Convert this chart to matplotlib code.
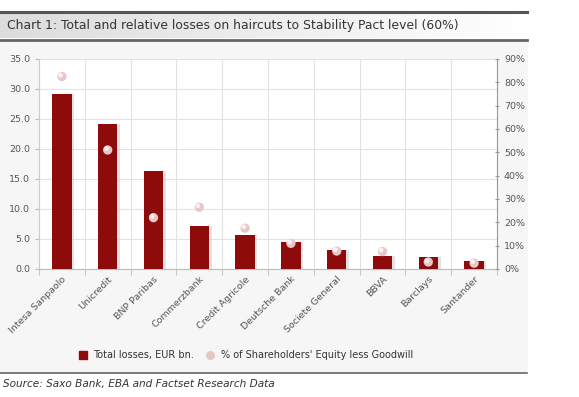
import matplotlib
matplotlib.use("Agg")
import matplotlib.pyplot as plt
import numpy as np
from matplotlib.patches import Rectangle
from matplotlib.lines import Line2D

# %% Data
banks = ['Intesa Sanpaolo', 'Unicredit', 'BNP Paribas', 'Commerzbank', 'Credit Agricole',
         'Deutsche Bank', 'Societe General', 'BBVA', 'Barclays', 'Santander']
losses = [29.2, 24.2, 16.3, 7.2, 5.7, 4.5, 3.2, 2.2, 2.0, 1.3]
equity_pct = [82.5, 51.0, 22.0, 26.5, 17.5, 11.0, 7.7, 7.5, 3.0, 2.5]
left_ticks = [0, 5, 10, 15, 20, 25, 30, 35]
right_ticks = [0, 10, 20, 30, 40, 50, 60, 70, 80, 90]

bar_col = '#8e0b0b'
dot_col = '#e8c6c6'
txt_col = '#555555'

W, H = 579, 397
fig = plt.figure(figsize=(W / 100, H / 100), dpi=100)
fig.patch.set_facecolor('white')

# %% Background panel, title band and rules (figure pixel coords)
bg = fig.add_axes([0, 0, 1, 1])
bg.set_xlim(0, W)
bg.set_ylim(H, 0)
bg.axis('off')
bg.add_patch(Rectangle((0, 40), 527, 333, color='#f6f6f6', zorder=0))
grad = np.linspace(0, 1, 256).reshape(1, -1)
bg.imshow(grad, extent=(0, 527, 38, 13), cmap=matplotlib.colors.LinearSegmentedColormap.from_list(
    'g', ['#dcdcdc', '#ffffff']), aspect='auto', zorder=1)
bg.plot([0, 527], [12, 12], color='#555555', lw=2.2, zorder=2)
bg.plot([0, 527], [39.5, 39.5], color='#666666', lw=2.0, zorder=2)
bg.plot([0, 527], [373, 373], color='#666666', lw=1.2, zorder=2)
bg.set_xlim(0, W)
bg.set_ylim(H, 0)
bg.text(7, 26, 'Chart 1: Total and relative losses on haircuts to Stability Pact level (60%)',
        fontsize=8.9, color='#333333', va='center', ha='left', zorder=3)
bg.text(3, 384, 'Source: Saxo Bank, EBA and Factset Research Data',
        fontsize=7.6, style='italic', color='#333333', va='center', ha='left')

# %% Main axes
ax = fig.add_axes([39 / W, 1 - 269 / H, (497 - 39) / W, (269 - 59) / H])
ax.set_facecolor('white')
x = np.arange(len(banks))
ax.bar(x + 0.06, losses, width=0.42, color='#cfcfcf', alpha=0.6, zorder=2)
ax.bar(x, losses, width=0.42, color=bar_col, zorder=3)
ax.set_xlim(-0.5, len(banks) - 0.5)
ax.set_ylim(0, 35)
ax.set_yticks(left_ticks)
ax.set_yticklabels([f'{v:.1f}' for v in left_ticks])
ax.set_xticks(x)
ax.set_xticklabels(banks, rotation=45, ha='right', rotation_mode='anchor')
ax.set_xticks(np.arange(-0.5, len(banks), 1), minor=True)
ax.grid(True, which='minor', axis='x', color='#e2e2e2', lw=0.8)
ax.grid(True, which='major', axis='y', color='#e2e2e2', lw=0.8)
ax.tick_params(axis='x', which='major', length=0, labelsize=6.8, colors=txt_col, pad=4)
ax.tick_params(axis='x', which='minor', length=4, color='#bbbbbb')
ax.tick_params(axis='y', labelsize=6.8, colors=txt_col, length=3, color='#bbbbbb')
ax.set_axisbelow(True)
for s in ['top', 'right']:
    ax.spines[s].set_visible(False)
ax.spines['left'].set_color('#cccccc')
ax.spines['bottom'].set_color('#bbbbbb')

ax2 = ax.twinx()
ax2.set_ylim(0, 90)
ax2.set_yticks(right_ticks)
ax2.set_yticklabels([f'{v}%' for v in right_ticks])
ax2.scatter(x, equity_pct, s=45, color=dot_col, edgecolors='none', zorder=4)
ax2.scatter(x - 0.03, np.array(equity_pct) + 0.6, s=12, color='#fbf0f0', edgecolors='none', zorder=5)
ax2.tick_params(axis='y', labelsize=6.8, colors=txt_col, length=3, color='#999999',
                direction='inout')
for s in ['top', 'left', 'bottom']:
    ax2.spines[s].set_visible(False)
ax2.spines['right'].set_color('#999999')

# %% Legend
handles = [Line2D([], [], marker='s', ls='none', color=bar_col, markersize=5.5),
           Line2D([], [], marker='o', ls='none', color=dot_col, markersize=5.5)]
fig.legend(handles, ['Total losses, EUR bn.', "% of Shareholders' Equity less Goodwill"],
           loc='center', bbox_to_anchor=(243 / W, 1 - 355 / H), ncol=2, frameon=False,
           fontsize=7.0, handletextpad=0.1, columnspacing=0.6, labelcolor='#333333')

fig.savefig('out.png', dpi=100)
